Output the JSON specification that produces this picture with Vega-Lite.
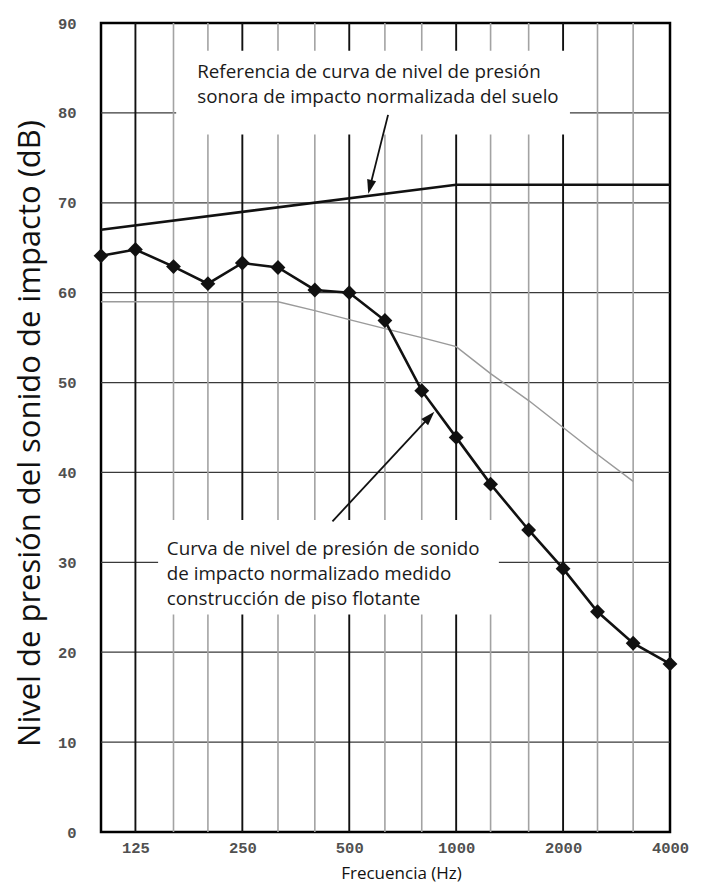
{
  "$schema": "https://vega.github.io/schema/vega-lite/v6.json",
  "width": 569,
  "height": 809,
  "autosize": {"type": "none"},
  "padding": {"left": 101, "top": 23, "right": 32, "bottom": 58},
  "background": "white",
  "config": {"view": {"stroke": "black", "strokeWidth": 2.5}},
  "datasets": {
    "measured": [
      {"f": 100, "L": 64.1}, {"f": 125, "L": 64.8}, {"f": 160, "L": 62.9}, {"f": 200, "L": 61.0},
      {"f": 250, "L": 63.3}, {"f": 315, "L": 62.8}, {"f": 400, "L": 60.3}, {"f": 500, "L": 60.0},
      {"f": 630, "L": 56.9}, {"f": 800, "L": 49.1}, {"f": 1000, "L": 43.9}, {"f": 1250, "L": 38.7},
      {"f": 1600, "L": 33.6}, {"f": 2000, "L": 29.3}, {"f": 2500, "L": 24.5}, {"f": 3150, "L": 21.0},
      {"f": 4000, "L": 18.7}
    ],
    "reference": [{"f": 100, "L": 67}, {"f": 1000, "L": 72}, {"f": 4000, "L": 72}],
    "shifted": [
      {"f": 100, "L": 59}, {"f": 125, "L": 59}, {"f": 160, "L": 59}, {"f": 200, "L": 59},
      {"f": 250, "L": 59}, {"f": 315, "L": 59}, {"f": 400, "L": 58}, {"f": 500, "L": 57},
      {"f": 630, "L": 56}, {"f": 800, "L": 55}, {"f": 1000, "L": 54}, {"f": 1250, "L": 51},
      {"f": 1600, "L": 48}, {"f": 2000, "L": 45}, {"f": 2500, "L": 42}, {"f": 3150, "L": 39}
    ],
    "vminor": [{"f": 160}, {"f": 200}, {"f": 315}, {"f": 400}, {"f": 630}, {"f": 800}, {"f": 1250}, {"f": 1600}, {"f": 2500}, {"f": 3150}],
    "vmajor": [{"f": 125}, {"f": 250}, {"f": 500}, {"f": 1000}, {"f": 2000}],
    "hgrid": [{"L": 10}, {"L": 20}, {"L": 30}, {"L": 40}, {"L": 50}, {"L": 60}, {"L": 70}, {"L": 80}],
    "boxes": [
      {"f1": 162.8, "f2": 2091, "L1": 77.6, "L2": 86.9},
      {"f1": 144.8, "f2": 1319, "L1": 24.2, "L2": 34.7}
    ],
    "notes": [
      {"f": 186.6, "L": 83.89, "text": "Referencia de curva de nivel de presión"},
      {"f": 186.6, "L": 81.11, "text": "sonora de impacto normalizada del suelo"},
      {"f": 153.2, "L": 30.78, "text": "Curva de nivel de presión de sonido"},
      {"f": 153.2, "L": 28.0, "text": "de impacto normalizado medido"},
      {"f": 153.2, "L": 25.22, "text": "construcción de piso flotante"}
    ],
    "arrows": [
      {"f1": 643, "L1": 79.78, "f2": 571.8, "L2": 71.76, "angle": 193.9},
      {"f1": 448.5, "L1": 34.56, "f2": 841.5, "L2": 46.18, "angle": 42.9}
    ]
  },
  "layer": [
    {
      "data": {"name": "measured"},
      "mark": {"type": "point", "opacity": 0},
      "encoding": {
        "x": {
          "field": "f", "type": "quantitative",
          "title": "Frecuencia (Hz)",
          "scale": {"type": "log", "domain": [100, 4000], "nice": false},
          "axis": {
            "values": [125, 250, 500, 1000, 2000, 4000], "format": "d",
            "grid": false, "ticks": false, "tickSize": 0, "domain": false,
            "labelFont": "Liberation Mono", "labelFontWeight": "bold", "labelFontSize": 15.5, "labelColor": "#505050",
            "labelPadding": 8, "labelFlush": false, "labelOverlap": false,
            "titleFont": "Open Sans", "titleFontWeight": "normal", "titleFontSize": 17, "titleColor": "#111111",
            "titleX": 300, "titleY": 41, "titleBaseline": "middle", "titleAlign": "center"
          }
        },
        "y": {
          "field": "L", "type": "quantitative",
          "title": "Nivel de presión del sonido de impacto (dB)",
          "scale": {"domain": [0, 90], "nice": false, "zero": false},
          "axis": {
            "values": [0, 10, 20, 30, 40, 50, 60, 70, 80, 90], "format": "d",
            "grid": false, "ticks": false, "tickSize": 0, "domain": false,
            "labelFont": "Liberation Mono", "labelFontWeight": "bold", "labelFontSize": 15.5, "labelColor": "#505050",
            "labelPadding": 25, "labelFlush": false, "labelOverlap": false,
            "titleFont": "Open Sans", "titleFontWeight": "normal", "titleFontSize": 31, "titleColor": "#111111",
            "titleX": -71, "titleY": 410, "titleAngle": 270, "titleBaseline": "middle", "titleAlign": "center"
          }
        }
      }
    },
    {
      "data": {"name": "hgrid"},
      "mark": {"type": "rule", "color": "#3a3a3a", "strokeWidth": 1.3},
      "encoding": {
        "y": {"field": "L", "type": "quantitative"}
      }
    },
    {
      "data": {"name": "vminor"},
      "mark": {"type": "rule", "color": "#a3a3a3", "strokeWidth": 1.6},
      "encoding": {
        "x": {"field": "f", "type": "quantitative"}
      }
    },
    {
      "data": {"name": "vmajor"},
      "mark": {"type": "rule", "color": "#111111", "strokeWidth": 1.9},
      "encoding": {
        "x": {"field": "f", "type": "quantitative"}
      }
    },
    {
      "data": {"name": "boxes"},
      "mark": {"type": "rect", "fill": "white"},
      "encoding": {
        "x": {"field": "f1", "type": "quantitative"},
        "x2": {"field": "f2"},
        "y": {"field": "L1", "type": "quantitative"},
        "y2": {"field": "L2"}
      }
    },
    {
      "data": {"name": "shifted"},
      "mark": {"type": "line", "color": "#9a9a9a", "strokeWidth": 1.5},
      "encoding": {
        "x": {"field": "f", "type": "quantitative"},
        "y": {"field": "L", "type": "quantitative"}
      }
    },
    {
      "data": {"name": "reference"},
      "mark": {"type": "line", "color": "#111111", "strokeWidth": 2.6},
      "encoding": {
        "x": {"field": "f", "type": "quantitative"},
        "y": {"field": "L", "type": "quantitative"}
      }
    },
    {
      "data": {"name": "measured"},
      "mark": {"type": "line", "color": "#111111", "strokeWidth": 2.6, "point": {"shape": "diamond", "size": 220, "filled": true, "color": "#111111", "opacity": 1}},
      "encoding": {
        "x": {"field": "f", "type": "quantitative"},
        "y": {"field": "L", "type": "quantitative"}
      }
    },
    {
      "data": {"name": "arrows"},
      "mark": {"type": "rule", "color": "#111111", "strokeWidth": 1.8},
      "encoding": {
        "x": {"field": "f1", "type": "quantitative"},
        "y": {"field": "L1", "type": "quantitative"},
        "x2": {"field": "f2"},
        "y2": {"field": "L2"}
      }
    },
    {
      "data": {"name": "arrows"},
      "mark": {"type": "point", "shape": "M0,-1L0.65,1L-0.65,1Z", "filled": true, "color": "#111111", "opacity": 1, "size": 200},
      "encoding": {
        "x": {"field": "f2", "type": "quantitative"},
        "y": {"field": "L2", "type": "quantitative"},
        "angle": {"field": "angle", "type": "quantitative", "scale": null}
      }
    },
    {
      "data": {"name": "notes"},
      "mark": {"type": "text", "align": "left", "baseline": "alphabetic", "font": "Open Sans", "fontSize": 18.8, "color": "#1a1a1a"},
      "encoding": {
        "x": {"field": "f", "type": "quantitative"},
        "y": {"field": "L", "type": "quantitative"},
        "text": {"field": "text"}
      }
    }
  ]
}
